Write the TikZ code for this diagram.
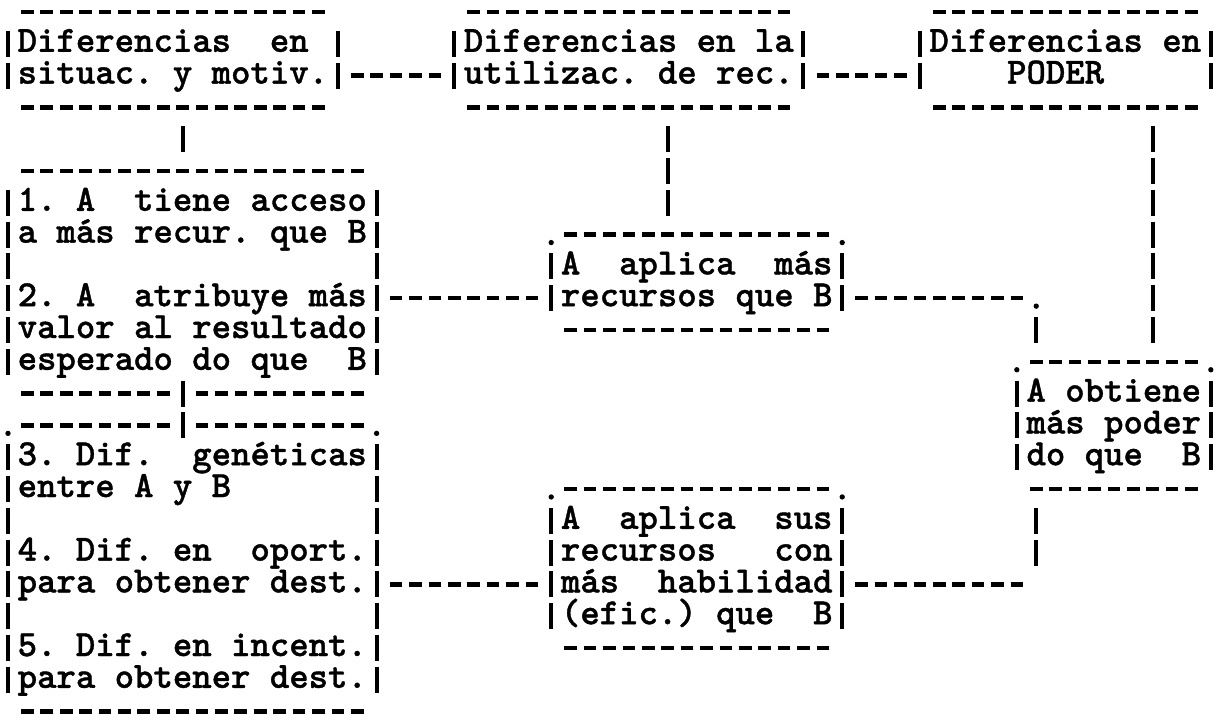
\documentclass[tikz,border=0pt]{standalone}
\usepackage{fontspec}
\newfontfamily\typew{lmmonolt10-bold}[Extension=.otf, FakeBold=1]
\usetikzlibrary{calc}
\def\cw{14.55pt}
\def\rh{23.85pt}
\newcommand\tline[1]{\hbox{\vrule width 0pt height 17.93pt depth 5.92pt\smash{#1}}}
\newcommand\tlines[1]{\vbox{\offinterlineskip #1}}
\tikzset{
  tbox/.style 2 args={inner sep=0pt, outer sep=0pt, minimum width=#1*\cw, minimum height=#2*\rh,
    font=\typew\fontsize{27.71pt}{23.85pt}\selectfont},
  hd/.style={line width=3.2pt, dash pattern=on 9.46pt off 5.09pt},
  vd/.style={line width=2.9pt, dash pattern=on 19.56pt off 4.29pt},
}
% horizontal run of typed dashes: base point, first and last column offsets
\newcommand\hrun[3]{\draw[hd] ($#1+(#2-0.325,0)$) -- ($#1+(#3+0.325,0)$);}
\newcommand\sides[1]{%
  \draw[vd] ($(#1.north west)+(0,0.59)$) -- ($(#1.south west)+(0,-0.59)$);
  \draw[vd] ($(#1.north east)+(0,0.59)$) -- ($(#1.south east)+(0,-0.59)$);}
\newcommand\fullh[1]{%
  \draw[hd] ($(#1.north west)+(0.675,0)$) -- ($(#1.north east)+(-0.675,0)$);
  \draw[hd] ($(#1.south west)+(0.675,0)$) -- ($(#1.south east)+(-0.675,0)$);}
\newcommand\topdots[1]{%
  \fill ($(#1.north west)+(0,0.25)$) circle (2pt);
  \fill ($(#1.north east)+(0,0.25)$) circle (2pt);}
\begin{document}
\begin{tikzpicture}[x=14.55pt, y=-23.85pt]
\useasboundingbox (-0.4124,-0.3774) rectangle (62.577,22.327);

% boxes
\node[tbox={17}{3}] (A) at (8.5,1.5) {\tlines{\tline{Diferencias~~en~}\tline{situac.~y~motiv.}}};
\node[tbox={18}{3}] (B) at (32,1.5) {\tlines{\tline{Diferencias~en~la}\tline{utilizac.~de~rec.}}};
\node[tbox={15}{3}] (C) at (54.5,1.5) {\tlines{\tline{Diferencias~en}\tline{~~~~PODER~~~~~}}};
\node[tbox={19}{7}] (L1) at (9.5,8.5) {\tlines{%
  \tline{1.~A~~tiene~acceso}\tline{a~más~recur.~que~B}\tline{}%
  \tline{2.~A~~atribuye~más}\tline{valor~al~resultado}\tline{esperado~do~que~~B}}};
\node[tbox={19}{9}] (L2) at (9.5,17.5) {\tlines{%
  \tline{3.~Dif.~~genéticas}\tline{entre~A~y~B~~~~~~~}\tline{}%
  \tline{4.~Dif.~en~~oport.}\tline{para~obtener~dest.}\tline{}%
  \tline{5.~Dif.~en~incent.}\tline{para~obtener~dest.}}};
\node[tbox={15}{3}] (M1) at (35.5,8.5) {\tlines{\tline{A~~aplica~~más}\tline{recursos~que~B}}};
\node[tbox={15}{5}] (M2) at (35.5,17.5) {\tlines{%
  \tline{A~~aplica~~sus}\tline{recursos~~~con}\tline{más~~habilidad}\tline{(efic.)~que~~B}}};
\node[tbox={10}{4}] (D) at (57,13) {\tlines{\tline{A~obtiene}\tline{más~poder}\tline{do~que~~B}}};

% borders
\fullh{A} \sides{A}
\fullh{B} \sides{B}
\fullh{C} \sides{C}
\fullh{M1} \sides{M1} \topdots{M1}
\fullh{M2} \sides{M2} \topdots{M2}
\fullh{D} \sides{D} \topdots{D}
\sides{L1} \sides{L2}
\hrun{(L1.north west)}{1}{18}
\hrun{(L1.south west)}{1}{8}
\hrun{(L1.south west)}{10}{18}
\hrun{(L2.north west)}{1}{8}
\hrun{(L2.north west)}{10}{18}
\hrun{(L2.south west)}{1}{18}
\topdots{L2}

% connectors
\draw[hd] ($(A.north east)+(0.675,2)$) -- ($(B.north west)+(-0.675,2)$);
\draw[hd] ($(B.north east)+(0.675,2)$) -- ($(C.north west)+(-0.675,2)$);
\draw[vd] ($(A.south west)+(9,0.59)$) -- ($(L1.north west)+(9,-0.59)$);
\draw[vd] ($(B.south west)+(11,0.59)$) -- ($(M1.north west)+(6,-0.59)$);
\draw[vd] ($(C.south west)+(12,0.59)$) -- ($(D.north west)+(7,-0.59)$);
\draw[vd] ($(L1.south west)+(9,-0.41)$) -- ($(L2.north west)+(9,0.41)$);
\draw[hd] ($(L1.north east)+(0.675,4)$) -- ($(M1.north west)+(-0.675,2)$);
\coordinate (k1) at ($(D.north west)+(1,-2)$);
\draw[hd] ($(M1.north east)+(0.675,2)$) -- ($(k1)+(-0.675,0)$);
\fill ($(k1)+(0,0.25)$) circle (2pt);
\draw[vd] ($(k1)+(0,0.59)$) -- ($(D.north west)+(1,-0.59)$);
\draw[hd] ($(L2.north east)+(0.675,5)$) -- ($(M2.north west)+(-0.675,3)$);
\coordinate (k2) at ($(D.south west)+(1,3)$);
\draw[hd] ($(M2.north east)+(0.675,3)$) -- ($(k2)+(-0.675,0)$);
\draw[vd] ($(D.south west)+(1,0.59)$) -- ($(k2)+(0,-0.59)$);
\end{tikzpicture}
\end{document}
